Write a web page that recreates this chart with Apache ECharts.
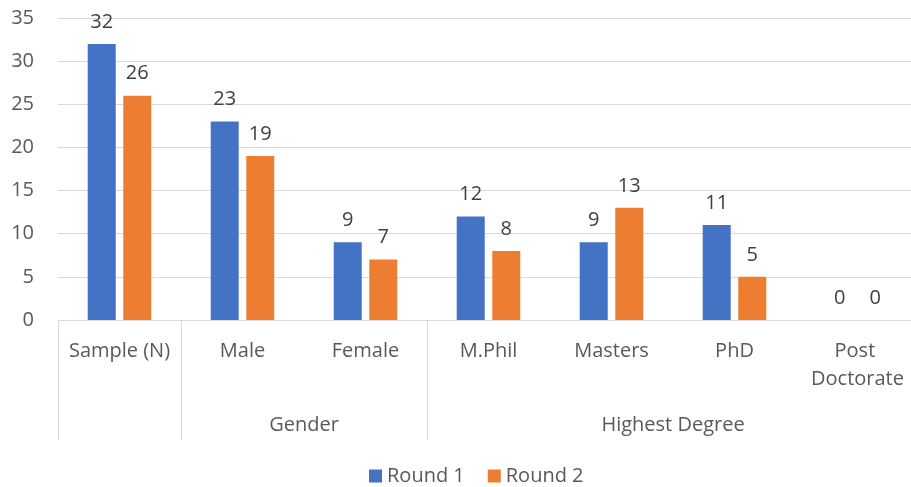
<!DOCTYPE html>
<html>
<head>
<meta charset="utf-8">
<script src="https://cdn.jsdelivr.net/npm/echarts@6/dist/echarts.min.js"></script>
<style>
  html, body { margin: 0; padding: 0; background: #fff; overflow: hidden; }
  /* the original plot runs a little past the right edge of the picture */
  #chart { width: 919px; height: 487px; }
</style>
</head>
<body>
<div id="chart"></div>
<script>
// categories and values
var categories = ['Sample (N)', 'Male', 'Female', 'M.Phil', 'Masters', 'PhD', 'Post Doctorate'];
var round1 = [32, 23, 9, 12, 9, 11, 0];
var round2 = [26, 19, 7, 8, 13, 5, 0];
// outer level of the axis: group names and the category bounds they span
var groupNames = ['Gender', 'Highest Degree'];
var groupBounds = [0, 1, 3, 7];

var FONT = 'Open Sans';
var TEXT = '#595959';

var groupMids = [];
for (var i = 0; i < groupNames.length; i++) {
  groupMids.push((groupBounds[i + 1] + groupBounds[i + 2]) / 2);
}

var chart = echarts.init(document.getElementById('chart'));
var option = {
  animation: false,
  textStyle: { fontFamily: FONT },
  color: ['#4472C4', '#ED7D31'],
  grid: { left: 58, right: 0, top: 18, bottom: 167, containLabel: false },
  legend: {
    top: 461,
    left: 364,
    itemWidth: 13,
    itemHeight: 13,
    itemGap: 23,
    icon: 'rect',
    textStyle: { fontSize: 20, color: TEXT, fontFamily: FONT },
    data: ['Round 1', 'Round 2']
  },
  xAxis: [
    {
      type: 'category',
      data: categories,
      axisLine: { show: true, lineStyle: { color: '#d9d9d9', width: 1 } },
      axisTick: { show: false },
      axisLabel: {
        interval: 0,
        fontSize: 20,
        color: TEXT,
        margin: 17,
        width: 115,
        overflow: 'break',
        lineHeight: 28
      }
    },
    {
      type: 'value',
      min: 0,
      max: categories.length,
      position: 'bottom',
      axisLine: { show: false },
      splitLine: { show: false },
      axisTick: {
        show: true,
        customValues: groupBounds,
        length: 120,
        lineStyle: { color: '#d9d9d9', width: 1 }
      },
      axisLabel: {
        customValues: groupMids,
        formatter: function (v) {
          var k = groupMids.indexOf(v);
          return k >= 0 ? groupNames[k] : '';
        },
        fontSize: 20,
        color: TEXT,
        margin: 95
      }
    }
  ],
  yAxis: {
    type: 'value',
    min: 0,
    max: 35,
    interval: 5,
    axisLine: { show: false },
    axisTick: { show: false },
    splitLine: { lineStyle: { color: '#d9d9d9', width: 1 } },
    axisLabel: { fontSize: 20, color: TEXT, margin: 24 }
  },
  series: [
    {
      name: 'Round 1',
      type: 'bar',
      data: round1,
      barWidth: 28,
      barGap: '27%',
      label: { show: true, position: 'top', distance: 12, fontSize: 20, color: '#404040' }
    },
    {
      name: 'Round 2',
      type: 'bar',
      data: round2,
      barWidth: 28,
      barGap: '27%',
      label: { show: true, position: 'top', distance: 12, fontSize: 20, color: '#404040' }
    }
  ]
};
chart.setOption(option);
</script>
</body>
</html>
